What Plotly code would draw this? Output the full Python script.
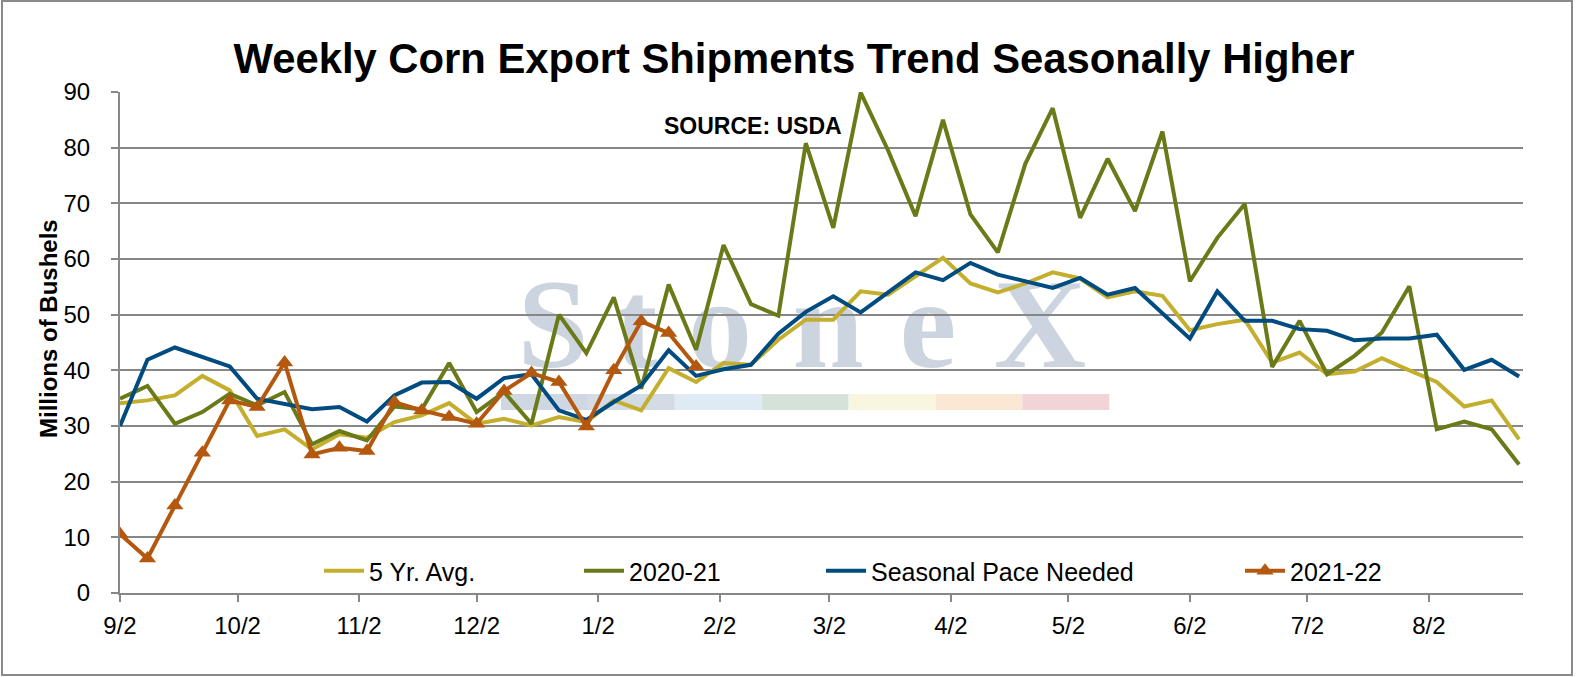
import pandas as pd
import plotly.graph_objects as go

# weekly marketing-year dates (Sep 2 through Aug 25)
weeks = pd.date_range("2021-09-02", periods=52, freq="7D")

five_yr_avg = [34.1, 34.6, 35.5, 39.0, 36.4, 28.2, 29.4, 25.8, 28.5, 27.9, 30.7, 31.9, 34.1, 30.4, 31.3, 30.1, 31.6, 30.7,
               34.6, 32.8, 40.4, 37.9, 41.3, 41.0, 45.5, 49.1, 49.1, 54.2, 53.6, 56.8, 60.2, 55.6, 54.0, 55.6, 57.6, 56.5,
               53.1, 54.2, 53.4, 47.2, 48.3, 49.1, 41.4, 43.2, 39.3, 39.8, 42.2, 40.0, 37.9, 33.5, 34.6, 27.6]

y2020_21 = [34.9, 37.2, 30.4, 32.5, 35.8, 33.7, 36.1, 26.7, 29.1, 27.4, 33.5, 33.0, 41.3, 32.5, 36.1, 30.4, 50.0, 43.1,
            53.1, 36.7, 55.4, 43.7, 62.5, 51.9, 49.8, 80.8, 65.6, 89.9, 79.5, 67.7, 85.0, 68.0, 61.2, 77.1, 87.1, 67.4,
            78.0, 68.6, 82.9, 56.0, 63.8, 69.9, 40.6, 48.9, 39.3, 42.6, 46.8, 55.1, 29.4, 30.8, 29.4, 23.1]

pace_needed = [30.0, 41.9, 44.1, 42.4, 40.7, 34.9, 34.0, 33.0, 33.4, 30.8, 35.5, 37.8, 37.9, 34.9, 38.6, 39.3, 32.8, 31.1,
               34.3, 37.3, 43.6, 39.0, 40.2, 41.0, 46.6, 50.5, 53.3, 50.4, 54.0, 57.6, 56.2, 59.3, 57.2, 56.0, 54.8, 56.6,
               53.6, 54.8, 50.3, 45.7, 54.2, 48.9, 48.9, 47.4, 47.1, 45.4, 45.7, 45.7, 46.4, 40.1, 41.9, 38.9]

y2021_22 = [10.6, 6.2, 15.7, 25.2, 34.6, 33.4, 41.4, 24.9, 26.1, 25.5, 34.3, 32.8, 31.6, 30.4, 36.3, 39.5, 37.9, 29.9,
            40.0, 48.8, 46.7, 40.7]

tick_vals = ["2021-09-02", "2021-10-02", "2021-11-02", "2021-12-02", "2022-01-02", "2022-02-02",
             "2022-03-02", "2022-04-02", "2022-05-02", "2022-06-02", "2022-07-02", "2022-08-02"]
tick_text = ["9/2", "10/2", "11/2", "12/2", "1/2", "2/2", "3/2", "4/2", "5/2", "6/2", "7/2", "8/2"]

FONT = "Liberation Sans"
GRID = "#878787"

# plot area in pixels, used to place decorations
L, R, T, B = 120, 1523, 92, 593
def px_x(p):
    return (p - L) / (R - L)
def px_y(p):
    return (B - p) / (B - T)

fig = go.Figure()
fig.add_trace(go.Scatter(x=weeks, y=five_yr_avg, name="5 Yr. Avg.", mode="lines",
                         line=dict(color="#C4AE2E", width=4), legend="legend"))
fig.add_trace(go.Scatter(x=weeks, y=y2020_21, name="2020-21", mode="lines",
                         line=dict(color="#6A7A19", width=4), legend="legend2"))
fig.add_trace(go.Scatter(x=weeks, y=pace_needed, name="Seasonal Pace Needed", mode="lines",
                         line=dict(color="#004B80", width=4), legend="legend3"))
fig.add_trace(go.Scatter(x=weeks[:len(y2021_22)], y=y2021_22, name="2021-22", mode="lines+markers",
                         line=dict(color="#B5580F", width=4),
                         marker=dict(symbol="triangle-up", size=15, color="#B5580F"), legend="legend4"))

shapes = []
# faint StoneX watermark colour strip
strip_cols = ["#cfd7e2", "#d3dbe5", "#deebf4", "#d4e2da", "#f8f6de", "#fbe8d4", "#f3d4d6"]
x_start, seg_w = 501, 86.9
for i, c in enumerate(strip_cols):
    shapes.append(dict(type="rect", xref="paper", yref="paper", layer="below",
                       x0=px_x(x_start + i * seg_w), x1=px_x(x_start + (i + 1) * seg_w),
                       y0=px_y(410), y1=px_y(394), fillcolor=c, line=dict(width=0)))
# watermark letters
letters = [("S", 553), ("t", 636), ("o", 720), ("n", 828), ("e", 928), ("X", 1040)]
for ch, cx in letters:
    shapes.append(dict(type="rect", xref="paper", yref="paper", layer="below",
                       x0=px_x(cx - 60), x1=px_x(cx + 60), y0=px_y(375), y1=px_y(245),
                       fillcolor="rgba(0,0,0,0)", line=dict(width=0),
                       label=dict(text=ch, textposition="middle center",
                                  font=dict(family="Liberation Serif", size=128, weight="bold",
                                            color="#ccd5df"))))
# outer frame
shapes.append(dict(type="rect", xref="paper", yref="paper", layer="above",
                   x0=px_x(2), x1=px_x(1572), y0=px_y(675), y1=px_y(1),
                   line=dict(color="#8a8a8a", width=2), fillcolor="rgba(0,0,0,0)"))

legend_common = dict(orientation="h", yanchor="middle", y=px_y(571), xanchor="left",
                     font=dict(family=FONT, size=25, color="black"), bgcolor="rgba(0,0,0,0)",
                     borderwidth=0, itemclick=False, itemwidth=40, visible=True)

fig.update_layout(
    width=1577, height=677,
    margin=dict(l=L, r=1577 - R, t=T, b=677 - B),
    paper_bgcolor="white", plot_bgcolor="white",
    font=dict(family=FONT, color="black"),
    showlegend=True,
    title=dict(text="Weekly Corn Export Shipments Trend Seasonally Higher",
               x=794 / 1577, xanchor="center", y=1 - 58 / 677, yanchor="middle", yref="container",
               font=dict(family=FONT, size=41.8, weight="bold", color="black")),
    xaxis=dict(type="date", range=["2021-09-02", "2022-08-26"],
               tickmode="array", tickvals=tick_vals, ticktext=tick_text,
               showgrid=False, showline=True, linecolor=GRID, linewidth=2,
               ticks="outside", ticklen=7, tickwidth=2, tickcolor=GRID,
               tickfont=dict(family=FONT, size=24, color="black"), ticklabelstandoff=3),
    yaxis=dict(range=[0, 90], dtick=10, showgrid=True, gridcolor=GRID, gridwidth=2,
               showline=True, linecolor=GRID, linewidth=2, zeroline=False,
               ticks="outside", ticklen=7, tickwidth=2, tickcolor=GRID,
               tickfont=dict(family=FONT, size=24, color="black"), ticklabelstandoff=16),
    shapes=shapes,
    legend=dict(legend_common, x=px_x(319)),
    legend2=dict(legend_common, x=px_x(579)),
    legend3=dict(legend_common, x=px_x(821)),
    legend4=dict(legend_common, x=px_x(1240)),
    annotations=[
        dict(text="Millions of Bushels", xref="paper", yref="paper", x=px_x(48), y=px_y(329),
             textangle=-90, showarrow=False, xanchor="center", yanchor="middle",
             font=dict(family=FONT, size=24, weight="bold", color="black")),
        dict(text="SOURCE: USDA", xref="paper", yref="paper", x=px_x(753), y=px_y(126),
             showarrow=False, xanchor="center", yanchor="middle",
             font=dict(family=FONT, size=23, weight="bold", color="black")),
    ],
)

# the page body has a default 8px margin; drop it so the figure sits at the window edge
fig.write_html("out.html", config={"displayModeBar": False},
               post_script="document.body.style.margin='0px';"
                           "document.documentElement.style.overflow='hidden';")
